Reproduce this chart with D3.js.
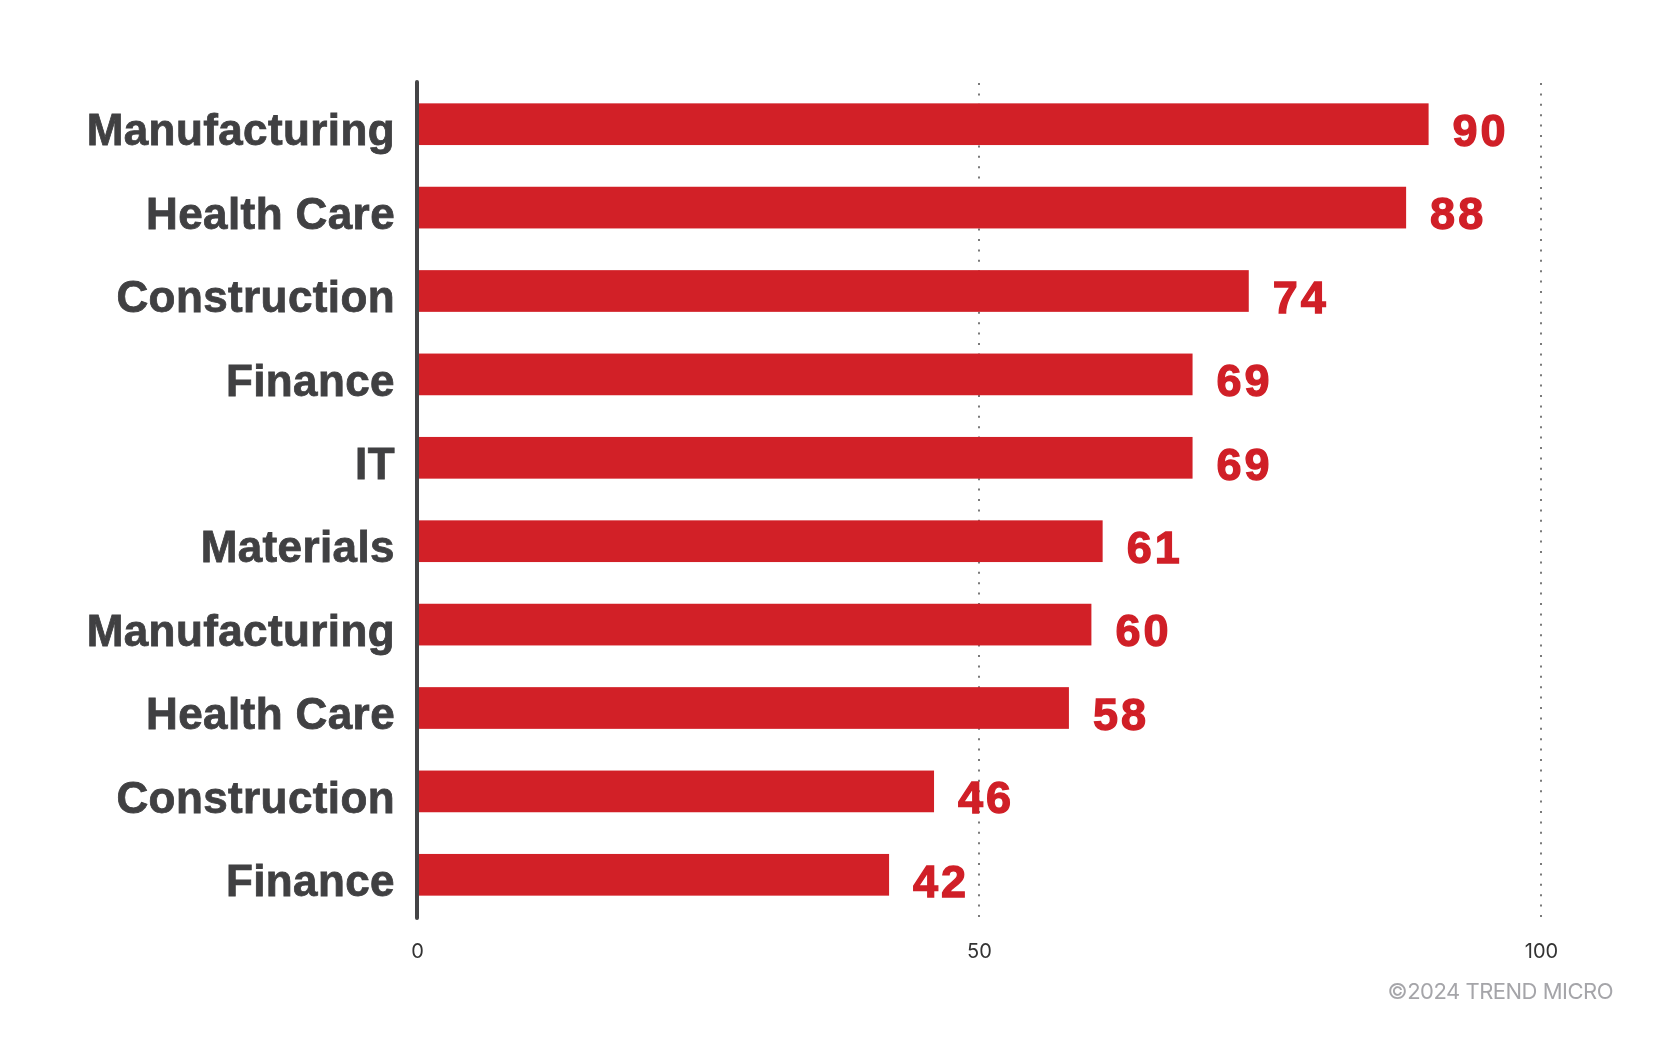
<!DOCTYPE html>
<html>
<head>
<style>
	body {
		margin: 0;
		background: #ffffff;
	}
	#chart {
		position: fixed;
		left: 0;
		top: 0;
		width: 1667px;
		height: 1042px;
	}
</style>
<script src="https://d3js.org/d3.v7.min.js"></script>
</head>
<body>
<div id="chart"></div>
<script>
	// Data (top to bottom)
	var industries = ["Manufacturing", "Health Care", "Construction", "Finance", "IT",
		"Materials", "Manufacturing", "Health Care", "Construction", "Finance"];
	var counts = [90, 88, 74, 69, 69, 61, 60, 58, 46, 42];
	var xTicks = [0, 50, 100];
	var gridTicks = [50, 100];
	var credit = "\u00a92024 TREND MICRO";

	function drawGraphic(){
		d3.selectAll('svg').remove();

		var width = 1667,
			height = 1042;

		var svg = d3.select('#chart').append('svg')
		                             .attr("width", width)
		                             .attr("height", height);

		// Scales
		var x = d3.scaleLinear()
		          .domain([0, 100])
		          .range([417, 1541]);

		var y = d3.scaleBand()
		          .domain(d3.range(industries.length))
		          .range([82.5, 916.5])
		          .paddingInner(0.5)
		          .paddingOuter(0.25);

		// Dotted gridlines at 50 and 100
		svg.append("g")
		   .selectAll("line")
		   .data(gridTicks)
		   .enter()
		   .append("line")
		   .attr("x1", function(d) { return x(d); })
		   .attr("x2", function(d) { return x(d); })
		   .attr("y1", 83)
		   .attr("y2", 918)
		   .attr("stroke", "#7a7a7a")
		   .attr("stroke-width", 2)
		   .attr("stroke-dasharray", "2 8.4");

		// Bars
		svg.append("g")
		   .selectAll("rect")
		   .data(counts)
		   .enter()
		   .append("rect")
		   .attr("x", x(0))
		   .attr("y", function(d, i) { return y(i); })
		   .attr("width", function(d) { return x(d) - x(0); })
		   .attr("height", y.bandwidth())
		   .attr("fill", "#d22027");

		// Value labels next to the bars
		svg.append("g")
		   .selectAll("text")
		   .data(counts)
		   .enter()
		   .append("text")
		   .text(function(d) { return d; })
		   .attr("x", function(d) { return x(d) + 24; })
		   .attr("y", function(d, i) { return y(i) + y.bandwidth() + 1; })
		   .attr("font-family", "'Liberation Sans', Arial, sans-serif")
		   .attr("font-weight", "bold")
		   .attr("font-size", "45px")
		   .attr("letter-spacing", "3px")
		   .attr("stroke", "#d01f27")
		   .attr("stroke-width", 1.3)
		   .attr("fill", "#d01f27");

		// Category axis on the left
		var yAxis = svg.append("g")
		   .attr("transform", "translate(" + x(0) + ",0)")
		   .call(d3.axisLeft(y)
		           .tickSize(0)
		           .tickPadding(22)
		           .tickFormat(function(i) { return industries[i]; }));
		yAxis.select(".domain").remove();
		yAxis.selectAll("text")
		   .attr("dy", "0.48em")
		   .attr("font-family", "'Liberation Sans', Arial, sans-serif")
		   .attr("font-weight", "bold")
		   .attr("font-size", "44px")
		   .attr("letter-spacing", "0.4px")
		   .attr("stroke", "#404042")
		   .attr("stroke-width", 0.8)
		   .attr("fill", "#404042");

		// Thick vertical baseline
		svg.append("line")
		   .attr("x1", x(0))
		   .attr("x2", x(0))
		   .attr("y1", 82)
		   .attr("y2", 918)
		   .attr("stroke", "#444446")
		   .attr("stroke-width", 4)
		   .attr("stroke-linecap", "round");

		// Value axis at the bottom
		var xAxis = svg.append("g")
		   .attr("transform", "translate(0,916)")
		   .call(d3.axisBottom(x)
		           .tickValues(xTicks)
		           .tickSize(0)
		           .tickPadding(28));
		xAxis.select(".domain").remove();
		xAxis.selectAll("text")
		   .attr("font-family", "Inter, 'Liberation Sans', sans-serif")
		   .attr("font-size", "20px")
		   .attr("fill", "#333333");

		// Credit line
		svg.append("text")
		   .text(credit)
		   .attr("x", 1613)
		   .attr("y", 999)
		   .attr("text-anchor", "end")
		   .attr("font-family", "Inter, 'Liberation Sans', sans-serif")
		   .attr("font-size", "22px")
		   .attr("letter-spacing", "-0.5px")
		   .attr("fill", "#a5a5a9");
	}

	drawGraphic();
</script>
</body>
</html>
